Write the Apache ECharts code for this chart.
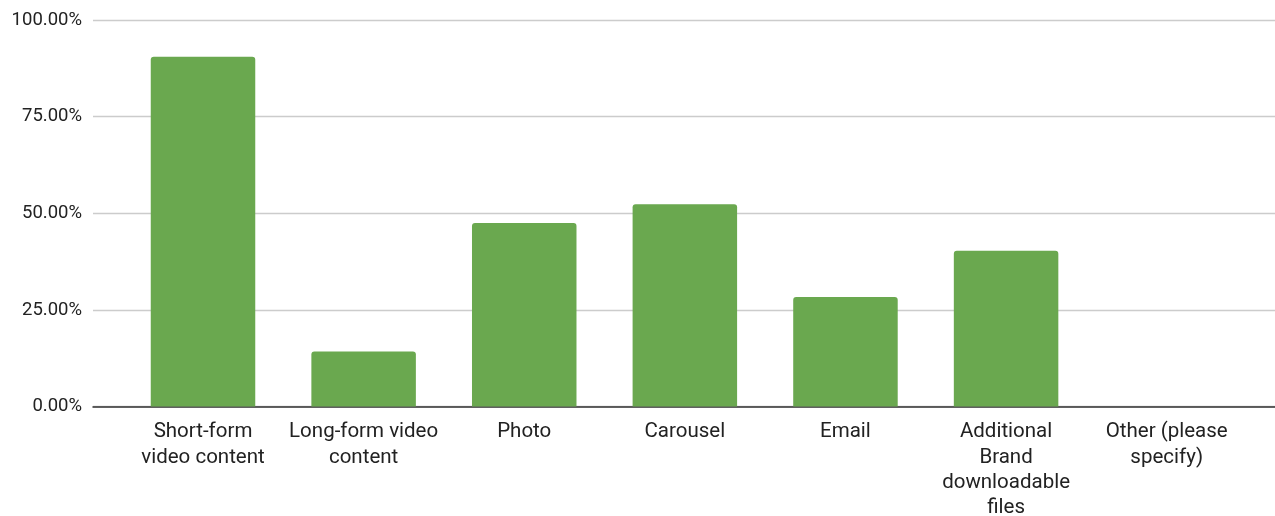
<!DOCTYPE html>
<html>
<head>
<meta charset="utf-8">
<script src="https://cdn.jsdelivr.net/npm/echarts@6/dist/echarts.min.js"></script>
<style>html,body{margin:0;padding:0;background:#fff;}#c{width:1275px;height:516px;}</style>
</head>
<body>
<div id="c"></div>
<script>
var categories = ["Short-form video content", "Long-form video content", "Photo", "Carousel", "Email", "Additional Brand downloadable files", "Other (please specify)"];
var tickLabels = ["Short-form\nvideo content", "Long-form video\ncontent", "Photo", "Carousel", "Email", "Additional\nBrand\ndownloadable\nfiles", "Other (please\nspecify)"];
var values = [90.5, 14.2, 47.5, 52.3, 28.3, 40.3, 0];
var yTicks = [0, 25, 50, 75, 100];

var chart = echarts.init(document.getElementById('c'), null, {renderer: 'canvas'});
var font = 'Roboto';
chart.setOption({
  animation: false,
  grid: [
    {left: 93, right: 0, top: 20, bottom: 109.5, containLabel: false, outerBoundsMode: 'none'},
    {left: 122.7, right: 28, top: 20, bottom: 109.5, containLabel: false, outerBoundsMode: 'none'}
  ],
  xAxis: [
    {gridIndex: 0, type: 'category', data: categories, show: true,
     axisLine: {show: true, lineStyle: {color: '#333333', width: 1.5}},
     axisTick: {show: false}, axisLabel: {show: false}},
    {gridIndex: 1, type: 'category', data: categories,
     axisLine: {show: false}, axisTick: {show: false},
     axisLabel: {
       interval: 0, margin: 13, color: '#222222', fontFamily: font, fontSize: 20.5, lineHeight: 25.3,
       formatter: function (v, i) { return tickLabels[i]; }
     }}
  ],
  yAxis: [
    {gridIndex: 0, type: 'value', min: yTicks[0], max: yTicks[yTicks.length - 1], interval: 25,
     axisLine: {show: false}, axisTick: {show: false},
     splitLine: {lineStyle: {color: '#cccccc', width: 1.3}},
     axisLabel: {margin: 11, color: '#222222', fontFamily: font, fontSize: 18.5,
       formatter: function (v) { return v.toFixed(2) + '%'; }}},
    {gridIndex: 1, type: 'value', min: 0, max: 100, show: false, splitLine: {show: false}}
  ],
  series: [{
    type: 'bar', xAxisIndex: 1, yAxisIndex: 1, data: values,
    barWidth: 104.5,
    itemStyle: {color: '#6aa84f', borderRadius: [3, 3, 0, 0]}
  }]
});
</script>
</body>
</html>
